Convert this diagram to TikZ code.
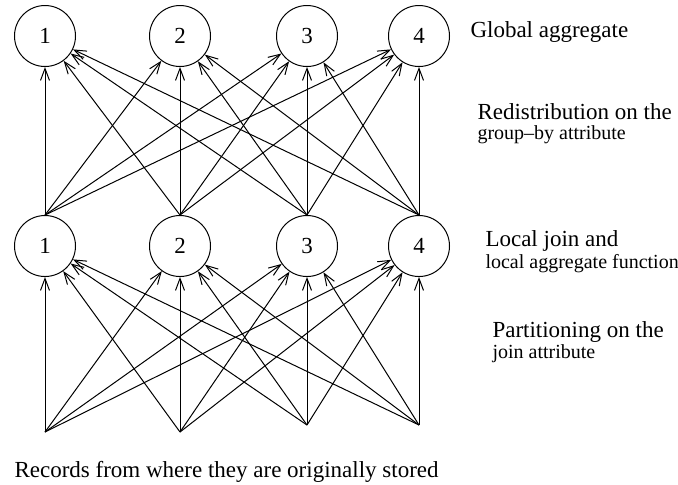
\documentclass[tikz,border=0pt]{standalone}
\usepackage{fontspec}
\setmainfont{Liberation Serif}
\usetikzlibrary{arrows.meta}

\tikzset{
    proc/.style={draw, circle, minimum size=30.5pt, inner sep=0pt, font=\fontsize{11.5}{14}\selectfont},
    bigtext/.style={anchor=base west, inner sep=0pt, font=\fontsize{11.5}{14}\selectfont},
    smalltext/.style={anchor=base west, inner sep=0pt, font=\fontsize{10}{12}\selectfont}
}

\begin{document}
\begin{tikzpicture}[x=0.5pt, y=-0.5pt, line width=0.5pt, >={Straight Barb[length=6pt,width=4.5pt]}]
    \useasboundingbox (0,0) rectangle (678,484);
    % Global aggregate row
    \node[proc] (t1) at (45,36) {1};
    \node[proc] (t2) at (180,36) {2};
    \node[proc] (t3) at (307,36) {3};
    \node[proc] (t4) at (419,36) {4};
    % Local join row
    \node[proc] (m1) at (45,246) {1};
    \node[proc] (m2) at (180,246) {2};
    \node[proc] (m3) at (307,246) {3};
    \node[proc] (m4) at (419,246) {4};
    % Where the records start
    \coordinate (b1) at (45,432);
    \coordinate (b2) at (180,432);
    \coordinate (b3) at (307,425);
    \coordinate (b4) at (419,425);
    % Every site sends to every site
    \foreach \i in {1,...,4} {
        \foreach \j in {1,...,4} {
            \draw[->] (m\i.north) -- (t\j);
            \draw[->] (b\i) -- (m\j);
        }
    }
    % Labels on the right
    \node[bigtext] (lglobal) at (470,37) {Global aggregate};
    \node[bigtext] (lredist) at (477,119) {Redistribution on the};
    \node[smalltext] (lgroup) at (477,139) {group--by attribute};
    \node[bigtext] (llocal) at (485,246) {Local join and};
    \node[smalltext] (lfunc) at (485,268) {local aggregate function};
    \node[bigtext] (lpart) at (492,337) {Partitioning on the};
    \node[smalltext] (ljoin) at (492,358) {join attribute};
    \node[bigtext] (lrecords) at (14,477) {Records from where they are originally stored};
\end{tikzpicture}
\end{document}
